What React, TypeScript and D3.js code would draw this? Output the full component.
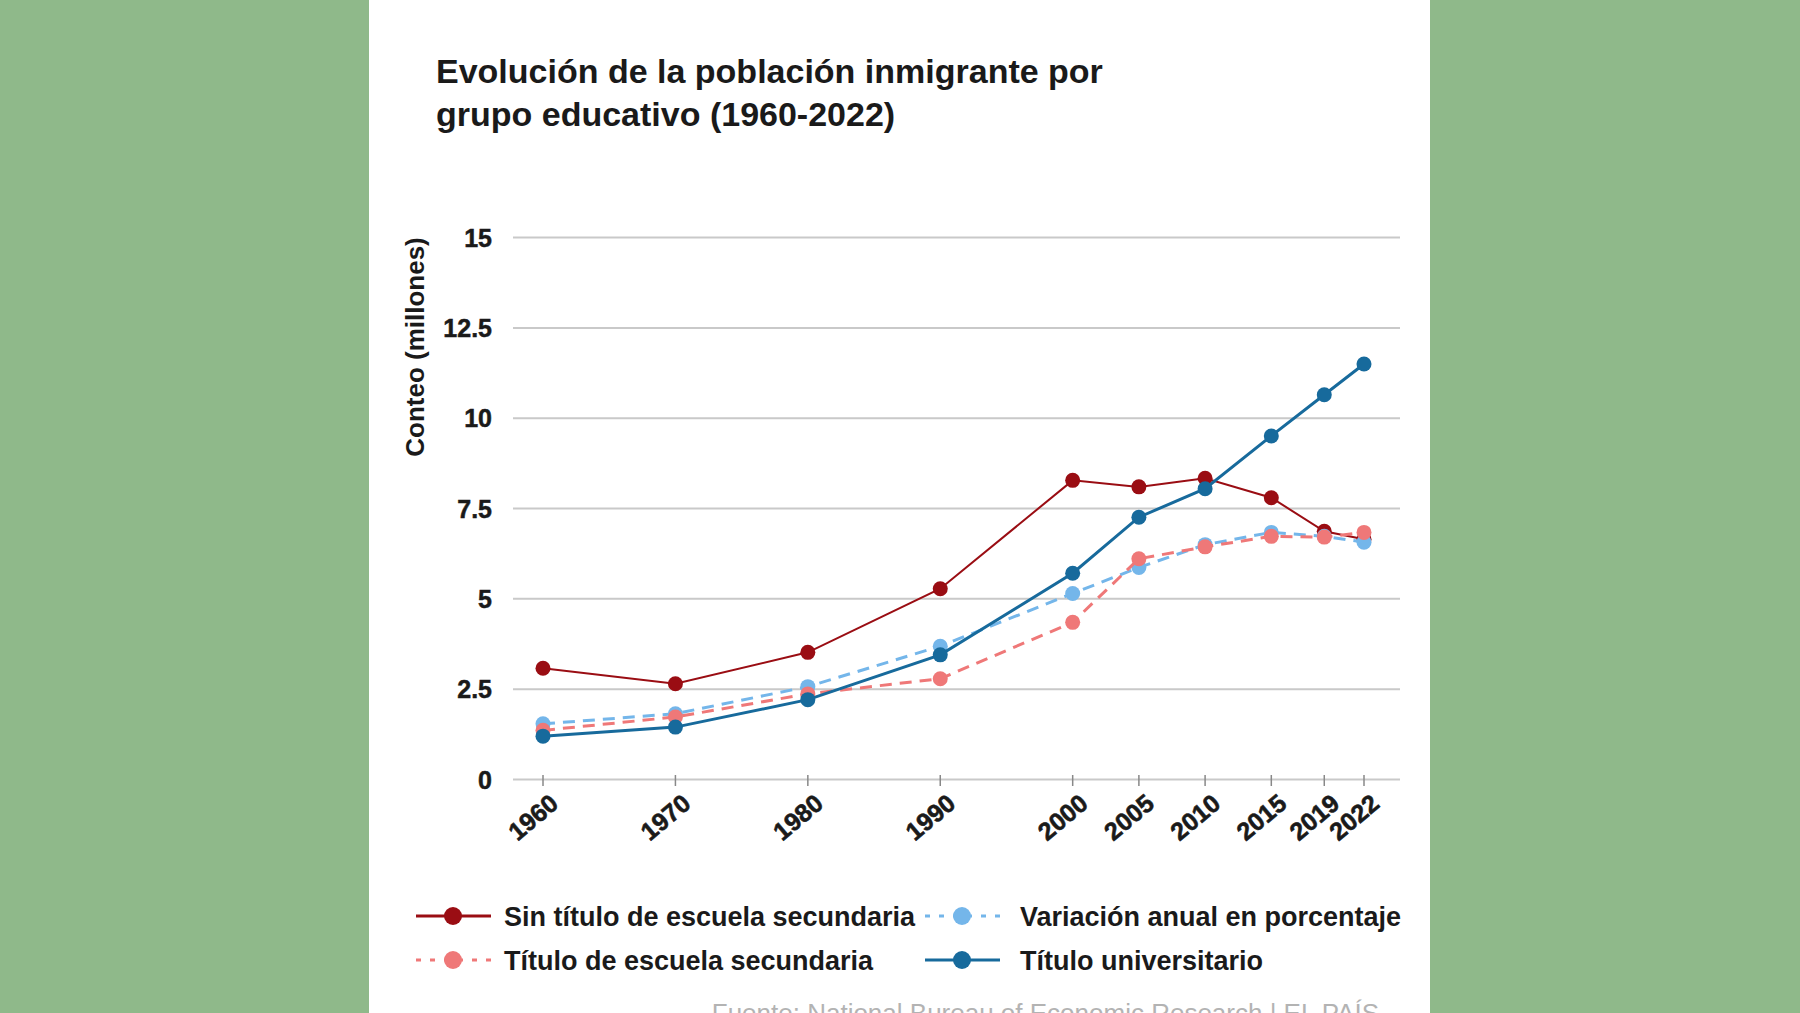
import React from "react";
import * as d3 from "d3";

const years = [1960, 1970, 1980, 1990, 2000, 2005, 2010, 2015, 2019, 2022];
const sinTitulo = [3.08, 2.65, 3.52, 5.28, 8.28, 8.1, 8.34, 7.8, 6.87, 6.65];
const variacion = [1.54, 1.82, 2.57, 3.69, 5.15, 5.87, 6.5, 6.84, 6.73, 6.57];
const tituloSecundaria = [1.36, 1.73, 2.37, 2.79, 4.35, 6.11, 6.44, 6.73, 6.71, 6.84];
const tituloUniversitario = [1.2, 1.45, 2.21, 3.45, 5.71, 7.26, 8.05, 9.51, 10.65, 11.5];
const yTicks = [0, 2.5, 5, 7.5, 10, 12.5, 15];
const yTickLabels = ["0", "2.5", "5", "7.5", "10", "12.5", "15"];

const titleLines = ["Evolución de la población inmigrante por", "grupo educativo (1960-2022)"];
const yTitle = "Conteo (millones)";
const source = "Fuente: National Bureau of Economic Research | EL PAÍS";

const series = [
  { name: "Sin título de escuela secundaria", values: sinTitulo, color: "#9a0d13", width: 2, dash: null as string | null },
  { name: "Variación anual en porcentaje", values: variacion, color: "#74b6ea", width: 3, dash: "12,8" },
  { name: "Título de escuela secundaria", values: tituloSecundaria, color: "#ef7878", width: 3, dash: "12,8" },
  { name: "Título universitario", values: tituloUniversitario, color: "#176a9c", width: 3, dash: null as string | null },
];

const legendOrder = [
  { idx: 0, col: 0, row: 0 },
  { idx: 1, col: 1, row: 0 },
  { idx: 2, col: 0, row: 1 },
  { idx: 3, col: 1, row: 1 },
];

const FONT = "'Liberation Sans', Arial, sans-serif";

export default function App() {
  const W = 1800;
  const H = 1013;
  const x = d3.scaleLinear().domain([1960, 2022]).range([543, 1364]);
  const y = d3.scaleLinear().domain([0, 15]).range([779.5, 237.6]);
  const gridX0 = 513;
  const gridX1 = 1400;

  const line = d3
    .line<number>()
    .x((_, i) => x(years[i]))
    .y((d) => y(d));

  const legendX = [416, 925];
  const legendTextOff = [88, 95];
  const legendY = [916, 960];

  return (
    <svg
      width={W}
      height={H}
      style={{ position: "absolute", left: 0, top: 0, display: "block" }}
      xmlns="http://www.w3.org/2000/svg"
    >
      <rect x={0} y={0} width={W} height={H} fill="#8fb98a" />
      <rect x={369} y={0} width={1061} height={H} fill="#ffffff" />

      {titleLines.map((t, i) => (
        <text
          key={i}
          x={436}
          y={83 + i * 43}
          fontFamily={FONT}
          fontWeight={700}
          fontSize={34}
          fill="#1a1a1a"
        >
          {t}
        </text>
      ))}

      {/* gridlines */}
      {yTicks.map((t, i) => (
        <g key={i}>
          <line x1={gridX0} x2={gridX1} y1={y(t)} y2={y(t)} stroke="#c9c9c9" strokeWidth={2} />
          <text
            x={492}
            y={y(t)}
            dy="0.36em"
            textAnchor="end"
            fontFamily={FONT}
            fontWeight={700}
            fontSize={25}
            fill="#1a1a1a"
            stroke="#1a1a1a"
            strokeWidth={0.5}
          >
            {yTickLabels[i]}
          </text>
        </g>
      ))}

      <text
        transform={`translate(424,347) rotate(-90)`}
        textAnchor="middle"
        fontFamily={FONT}
        fontWeight={700}
        fontSize={26}
        fill="#1a1a1a"
      >
        {yTitle}
      </text>

      {/* x ticks */}
      {years.map((yr) => (
        <g key={yr}>
          <line x1={x(yr)} x2={x(yr)} y1={775} y2={786} stroke="#888" strokeWidth={1.5} />
          <text
            transform={`translate(${x(yr) + 17},806) rotate(-40)`}
            textAnchor="end"
            fontFamily={FONT}
            fontWeight={700}
            fontSize={25}
            fill="#1a1a1a"
            stroke="#1a1a1a"
            strokeWidth={0.6}
          >
            {yr}
          </text>
        </g>
      ))}

      {/* series */}
      {series.map((s, si) => (
        <g key={si}>
          <path
            d={line(s.values) || ""}
            fill="none"
            stroke={s.color}
            strokeWidth={s.width}
            strokeDasharray={s.dash || undefined}
          />
          {s.values.map((v, i) => (
            <circle key={i} cx={x(years[i])} cy={y(v)} r={7.5} fill={s.color} />
          ))}
        </g>
      ))}

      {/* legend */}
      {legendOrder.map((l) => {
        const s = series[l.idx];
        const lx = legendX[l.col];
        const ly = legendY[l.row];
        return (
          <g key={l.idx}>
            <line
              x1={lx}
              x2={lx + 75}
              y1={ly}
              y2={ly}
              stroke={s.color}
              strokeWidth={3}
              strokeDasharray={s.dash ? "5,9" : undefined}
            />
            <circle cx={lx + 37} cy={ly} r={9} fill={s.color} />
            <text
              x={lx + legendTextOff[l.col]}
              y={ly}
              dy="0.36em"
              fontFamily={FONT}
              fontWeight={700}
              fontSize={27}
              fill="#1a1a1a"
            >
              {s.name}
            </text>
          </g>
        );
      })}

      <text
        x={1379}
        y={1022}
        textAnchor="end"
        fontFamily={FONT}
        fontSize={26}
        fill="#b3b3b3"
      >
        {source}
      </text>
    </svg>
  );
}
